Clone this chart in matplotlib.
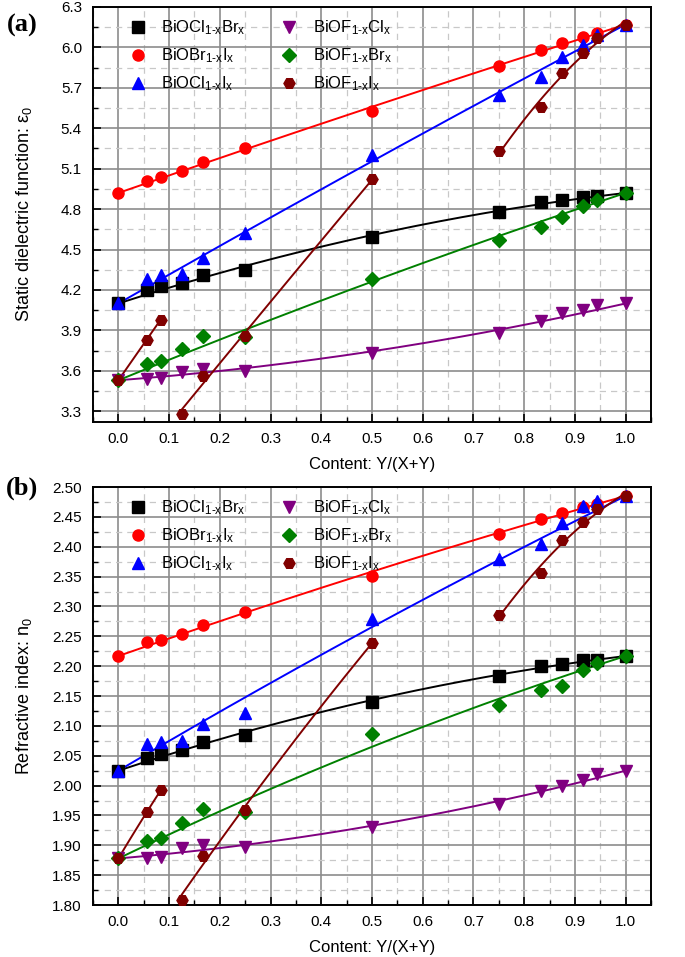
import numpy as np
import matplotlib.pyplot as plt
from matplotlib.ticker import MultipleLocator

plt.rcParams['font.family'] = ['Liberation Sans', 'DejaVu Sans']
plt.rcParams['mathtext.fontset'] = 'custom'
plt.rcParams['mathtext.rm'] = 'Liberation Sans'
plt.rcParams['mathtext.it'] = 'Liberation Sans:italic'
plt.rcParams['mathtext.default'] = 'regular'

# content Y/(X+Y)
x_vals = [0, 1/18, 1/12, 1/8, 1/6, 1/4, 1/2, 3/4, 5/6, 7/8, 11/12, 17/18, 1]

names = [r'BiOCl$_{1\text{-}x}$Br$_x$', r'BiOBr$_{1\text{-}x}$I$_x$', r'BiOCl$_{1\text{-}x}$I$_x$',
         r'BiOF$_{1\text{-}x}$Cl$_x$', r'BiOF$_{1\text{-}x}$Br$_x$', r'BiOF$_{1\text{-}x}$I$_x$']
colors = ['black', '#ff0000', '#0000ff', '#800080', '#008000', '#800000']
markers = ['s', 'o', '^', 'v', 'D', 'H']

# (a) static dielectric function eps_0
eps_ClBr = [4.10, 4.20, 4.23, 4.25, 4.31, 4.35, 4.59, 4.78, 4.85, 4.87, 4.89, 4.895, 4.92]
eps_BrI = [4.92, 5.01, 5.04, 5.085, 5.15, 5.25, 5.53, 5.86, 5.98, 6.03, 6.08, 6.11, 6.17]
eps_ClI = [4.10, 4.28, 4.31, 4.32, 4.44, 4.62, 5.20, 5.65, 5.78, 5.93, 6.02, 6.09, 6.17]
eps_FCl = [3.53, 3.54, 3.55, 3.59, 3.61, 3.60, 3.73, 3.88, 3.97, 4.03, 4.05, 4.09, 4.10]
eps_FBr = [3.53, 3.65, 3.67, 3.76, 3.86, 3.85, 4.28, 4.57, 4.67, 4.74, 4.82, 4.87, 4.92]
eps_FI = [3.53, 3.83, 3.98, 3.28, 3.56, 3.86, 5.02, 5.23, 5.555, 5.81, 5.96, 6.07, 6.17]

# (b) refractive index n_0
n_ClBr = [2.025, 2.046, 2.053, 2.060, 2.073, 2.085, 2.140, 2.184, 2.201, 2.203, 2.210, 2.211, 2.217]
n_BrI = [2.217, 2.240, 2.244, 2.254, 2.269, 2.291, 2.351, 2.422, 2.447, 2.457, 2.467, 2.472, 2.485]
n_ClI = [2.025, 2.069, 2.073, 2.074, 2.103, 2.122, 2.279, 2.380, 2.405, 2.440, 2.468, 2.477, 2.485]
n_FCl = [1.878, 1.878, 1.881, 1.895, 1.900, 1.898, 1.930, 1.969, 1.991, 2.000, 2.010, 2.019, 2.025]
n_FBr = [1.878, 1.907, 1.913, 1.937, 1.960, 1.955, 2.086, 2.135, 2.160, 2.167, 2.193, 2.205, 2.217]
n_FI = [1.878, 1.955, 1.992, 1.809, 1.882, 1.959, 2.239, 2.286, 2.356, 2.411, 2.441, 2.463, 2.485]

# BiOF(1-x)I(x) is fitted in three separate pieces
fi_pieces = [(0, 3), (3, 7), (7, 13)]


def bowing_fit(x, y):
    # y = (1-x)A + xB - b x(1-x), ends fixed
    x = np.asarray(x)
    y = np.asarray(y)
    lin = (1 - x) * y[0] + x * y[-1]
    g = x * (1 - x)
    b = -np.sum((y - lin) * g) / np.sum(g * g)
    xf = np.linspace(0, 1, 200)
    return xf, (1 - xf) * y[0] + xf * y[-1] - b * xf * (1 - xf)


def draw_panel(ax, series, ylim, ymaj, ymin, ylabel, yfmt):
    x = np.asarray(x_vals)
    for i, y in enumerate(series):
        y = np.asarray(y)
        if i == 5:
            for a, b in fi_pieces:
                deg = min(2, b - a - 1)
                p = np.polyfit(x[a:b], y[a:b], deg)
                xf = np.linspace(x[a], x[b - 1], 100)
                ax.plot(xf, np.polyval(p, xf), color=colors[i], lw=1.4, zorder=2)
        else:
            xf, yf = bowing_fit(x, y)
            ax.plot(xf, yf, color=colors[i], lw=1.4, zorder=2)
    for i, y in enumerate(series):
        ms = 7 if markers[i] == 'D' else 8
        ax.plot(x, y, ls='none', marker=markers[i], color=colors[i], ms=ms,
                label=names[i], zorder=3)

    ax.set_xlim(-0.05, 1.05)
    ax.set_ylim(*ylim)
    ax.xaxis.set_major_locator(MultipleLocator(0.1))
    ax.xaxis.set_minor_locator(MultipleLocator(0.05))
    ax.yaxis.set_major_locator(MultipleLocator(ymaj))
    ax.yaxis.set_minor_locator(MultipleLocator(ymin))
    ax.yaxis.set_major_formatter(yfmt)
    ax.xaxis.set_major_formatter('{x:.1f}')
    ax.grid(which='major', color='#8c8c8c', lw=1.2)
    ax.grid(which='minor', color='#c8c8c8', lw=0.9, ls=(0, (5, 4)))
    ax.set_axisbelow(True)
    ax.tick_params(which='both', direction='in', labelsize=11, top=False, right=False)
    ax.tick_params(which='major', length=6, width=1.2)
    ax.tick_params(which='minor', length=3.5, width=1.0)
    ax.tick_params(axis='x', pad=7)
    ax.tick_params(axis='y', pad=8)
    for s in ax.spines.values():
        s.set_linewidth(1.4)
    ax.set_xlabel('Content: Y/(X+Y)', fontsize=12, labelpad=8)
    ax.set_ylabel(ylabel, fontsize=13)
    ax.yaxis.set_label_coords(-0.105, 0.5)
    ax.legend(ncol=2, loc='upper left', frameon=False, fontsize=12,
              handlelength=1.0, handletextpad=0.9, columnspacing=2.1,
              labelspacing=0.55, borderaxespad=0.3, bbox_to_anchor=(0.045, 1.0))


fig = plt.figure(figsize=(6.85, 9.57), dpi=100)
ax_a = fig.add_axes([0.1358, 0.559, 0.8146, 0.4337])
ax_b = fig.add_axes([0.1358, 0.0543, 0.8146, 0.4368])

draw_panel(ax_a, [eps_ClBr, eps_BrI, eps_ClI, eps_FCl, eps_FBr, eps_FI],
           (3.22, 6.3), 0.3, 0.15, 'Static dielectric function: ε$_0$', '{x:.1f}')
draw_panel(ax_b, [n_ClBr, n_BrI, n_ClI, n_FCl, n_FBr, n_FI],
           (1.80, 2.50), 0.05, 0.025, 'Refractive index: n$_0$', '{x:.2f}')

fig.text(0.032, 0.973, '(a)', fontsize=19, fontweight='bold', family='Liberation Serif',
         ha='center', va='center')
fig.text(0.032, 0.490, '(b)', fontsize=19, fontweight='bold', family='Liberation Serif',
         ha='center', va='center')

fig.savefig('out.png', dpi=100)
